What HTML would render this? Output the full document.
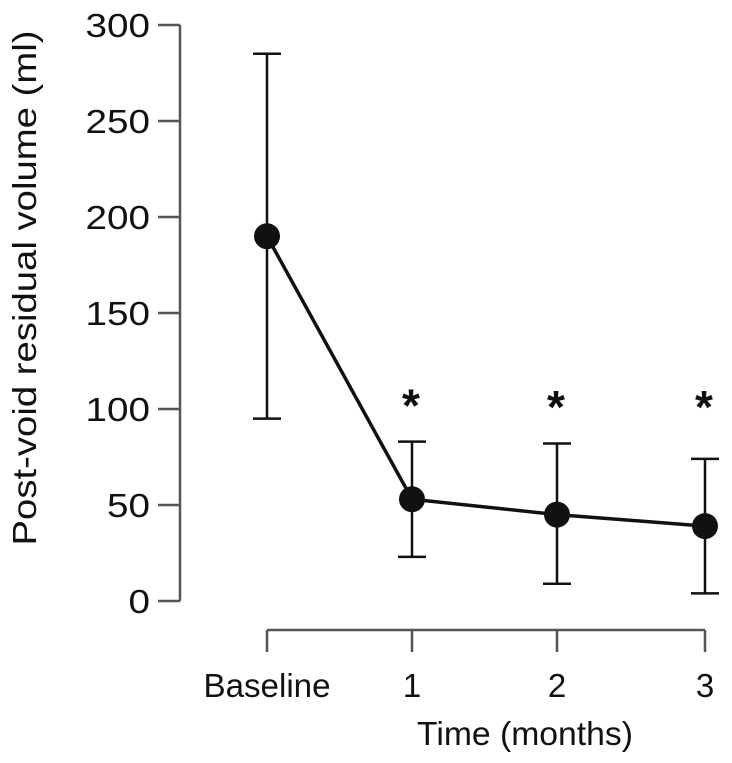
<!DOCTYPE html>
<html><head><meta charset="utf-8"><style>body{margin:0;background:#fff}svg{display:block}text{font-family:"Liberation Sans",sans-serif;fill:#111}</style></head>
<body>
<svg id="chart" width="732" height="763">
<g id="axes"></g><g id="marks"></g>
<text x="417" y="745" font-size="33" textLength="216" lengthAdjust="spacingAndGlyphs">Time (months)</text>
<text transform="translate(36,288) rotate(-90)" font-size="33" text-anchor="middle" textLength="515" lengthAdjust="spacingAndGlyphs">Post-void residual volume (ml)</text>
</svg>
<script>
const categories = ["Baseline","1","2","3"];
const means = [190, 53, 45, 39];
const lower = [95, 23, 9, 4];
const upper = [285, 83, 82, 74];
const significant = [false, true, true, true];
const yTicks = [0,50,100,150,200,250,300];
const NS="http://www.w3.org/2000/svg";
const xPos=[267,412,557,705];
const xs=i=>xPos[i];
const ys=v=>601-v*(576/300);
function mk(tag,attrs,parent,txt){const e=document.createElementNS(NS,tag);for(const k in attrs)e.setAttribute(k,attrs[k]);if(txt!==undefined)e.textContent=txt;parent.appendChild(e);return e;}
const ax=document.getElementById('axes'),mg=document.getElementById('marks');
let e=mk('line',{x1:180,y1:ys(300),x2:180,y2:ys(0),stroke:'#555','stroke-width':2.5},ax);


yTicks.forEach(t=>{
 let l=mk('line',{x1:158,x2:180,y1:ys(t),y2:ys(t),stroke:'#555','stroke-width':2.5},ax);
 
 
 const s=String(t);
 let tx=mk('text',{x:150,y:ys(t)+12,'font-size':33,'text-anchor':'end',textLength:s.length*21.5,lengthAdjust:'spacingAndGlyphs'},ax,s);
 
 
});
e=mk('line',{x1:xs(0),x2:xs(3),y1:630,y2:630,stroke:'#555','stroke-width':2.5},ax);


categories.forEach((c,i)=>{
 let l=mk('line',{x1:xs(i),x2:xs(i),y1:630,y2:652,stroke:'#555','stroke-width':2.5},ax);
 
 
 const attrs={x:xs(i),y:697,'font-size':33,'text-anchor':'middle'};
 if(c.length>1){attrs.textLength=127;attrs.lengthAdjust='spacingAndGlyphs';}
 let tx=mk('text',attrs,ax,c);
 
 
});
categories.forEach((c,i)=>{
 const x=xs(i);
 let g=mk('path',{d:`M${x},${ys(lower[i])}V${ys(upper[i])}M${x-14},${ys(lower[i])}H${x+14}M${x-14},${ys(upper[i])}H${x+14}`,stroke:'#111','stroke-width':2.5,fill:'none'},mg);
 
 
 if(significant[i]){
  let s=mk('text',{x:x-1,y:Math.min(ys(upper[i])-20,423),'font-size':46,'font-weight':'bold','text-anchor':'middle'},mg,'*');
  
  
 }
});
let d=means.map((v,i)=>(i?'L':'M')+xs(i)+','+ys(v)).join('');
e=mk('path',{d:d,stroke:'#111','stroke-width':3.5,fill:'none'},mg);


means.forEach((v,i)=>{
 let c=mk('circle',{cx:xs(i),cy:ys(v),r:13,fill:'#111'},mg);
 
 
});
</script>
</body></html>
